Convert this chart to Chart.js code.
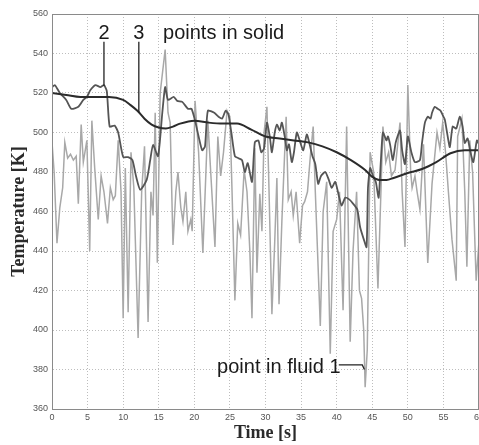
<!DOCTYPE html>
<html>
<head>
<meta charset="utf-8">
<script src="https://cdn.jsdelivr.net/npm/chart.js@4"></script>
<style>
html, body { margin: 0; padding: 0; background: #fff; overflow: hidden; }
</style>
</head>
<body>
<canvas id="grafico" width="479" height="445"></canvas>
<script>
// axis ticks
const xTicks = [0, 5, 10, 15, 20, 25, 30, 35, 40, 45, 50, 55, 60];
const yTicks = [360, 380, 400, 420, 440, 460, 480, 500, 520, 540, 560];

// point 3 in solid (smooth) [time s, temperature K]
const solid3 = [
    [0, 520], [2, 519], [4, 518], [6, 518], [8, 518], [10, 516.5], [11, 514], [12, 511],
    [13, 507], [14, 504], [15, 502.5], [16, 502], [17, 503], [18, 504.5], [20, 506], [22, 505],
    [24, 504.5], [26, 504.5], [28, 501.5], [30, 498], [32, 497], [34, 496], [36, 495], [38, 493],
    [40, 490], [42, 486], [44, 481], [45, 477.5], [46, 476], [47, 476], [48, 477], [50, 479.5],
    [52, 481.5], [54, 485], [56, 489.5], [58, 491], [60, 491]
];

// point 2 in solid
const solid2 = [
    [0, 523], [0.4, 524], [1.1, 520], [2.0, 516.5], [2.7, 512], [3.7, 513], [4.4, 516.5], [4.9, 518],
    [5.4, 521.5], [6.1, 524], [6.8, 523], [7.3, 524], [7.7, 521], [8.1, 503], [8.8, 503.5], [9.3, 500],
    [10.0, 487.6], [10.7, 487.5], [11.3, 486], [11.8, 478], [12.4, 471], [13.3, 476], [13.8, 486], [14.2, 493.7],
    [14.9, 488], [15.5, 510], [15.9, 523], [16.3, 516.5], [17.1, 518], [17.6, 516], [18.3, 515.5], [19.1, 512],
    [19.6, 512], [20.1, 506], [20.6, 498], [21.1, 491], [21.5, 493], [21.9, 511], [22.8, 510], [23.4, 508],
    [23.9, 507], [24.4, 511], [24.8, 509], [25.2, 500], [25.7, 488], [26.2, 487], [26.7, 486], [27.1, 480],
    [27.5, 484.5], [28.1, 475], [28.5, 495], [29.0, 496], [29.4, 490], [29.8, 492], [30.2, 505], [30.6, 498],
    [30.9, 490], [31.3, 500], [31.6, 504], [32.0, 501], [32.3, 505], [32.7, 498], [33.0, 491], [33.3, 494],
    [33.7, 485], [34.0, 490], [34.4, 500], [34.8, 496], [35.3, 491], [35.8, 499], [36.2, 494], [36.6, 488],
    [37.0, 484], [37.4, 474], [37.8, 478], [38.4, 480], [38.9, 476], [39.3, 472], [39.8, 475], [40.3, 468],
    [40.7, 463], [41.2, 467], [41.8, 466], [42.3, 464], [42.9, 461], [43.3, 452], [43.8, 446], [44.2, 442],
    [44.4, 472], [44.7, 482], [45.1, 478], [45.5, 475], [45.9, 467], [46.2, 485], [46.5, 500], [47.0, 496],
    [47.2, 498], [47.5, 494], [47.9, 486], [48.3, 495], [48.9, 501], [49.2, 491], [49.6, 484], [50.0, 498],
    [50.5, 490], [51.0, 485], [51.7, 486], [52.0, 495], [52.4, 505], [52.8, 508], [53.2, 507], [53.4, 510],
    [53.8, 513], [54.2, 512], [54.6, 511], [55.0, 508], [55.2, 506.5], [55.6, 498], [55.9, 492.6], [56.3, 503],
    [56.8, 502], [57.3, 508], [57.7, 503], [58.0, 494.7], [58.4, 497], [58.8, 490], [59.2, 485], [59.7, 496],
    [60.0, 494]
];

// point in fluid 1
const fluid1 = [
    [0.0, 495], [0.3, 480], [0.7, 444], [1.1, 462], [1.5, 472], [1.8, 495], [2.2, 487], [2.6, 489],
    [3.0, 486], [3.4, 488], [3.7, 464], [4.1, 504], [4.4, 485], [4.9, 496], [5.3, 440], [5.6, 506],
    [6.0, 482], [6.5, 456], [6.9, 478], [7.3, 470], [7.8, 454], [8.2, 472], [8.6, 466], [8.9, 468],
    [9.3, 496], [9.7, 470], [10.0, 406], [10.3, 482], [10.7, 409], [11.1, 490], [11.5, 472], [12.1, 396],
    [12.6, 470], [13.0, 493], [13.5, 404], [13.9, 470], [14.2, 458], [14.5, 510], [14.8, 434], [15.2, 520],
    [15.9, 542], [16.3, 510], [16.6, 505], [17.0, 443], [17.4, 470], [17.7, 480], [18.1, 462], [18.4, 455],
    [18.8, 470], [19.1, 450], [19.5, 456], [19.7, 450], [20.1, 516], [20.6, 490], [21.2, 439], [21.9, 506],
    [22.3, 480], [22.9, 442], [23.3, 498], [23.7, 478], [24.1, 490], [24.6, 511], [25.0, 508], [25.3, 470],
    [25.7, 415], [26.1, 454], [26.5, 448], [27.0, 481], [27.4, 470], [27.8, 440], [28.1, 406], [28.5, 492],
    [28.8, 429], [29.2, 469], [29.5, 450], [29.8, 500], [30.2, 513], [30.5, 470], [30.9, 408], [31.3, 445],
    [31.6, 477], [31.9, 413], [32.3, 455], [32.9, 508], [33.2, 466], [33.6, 470], [33.9, 458], [34.3, 470],
    [34.8, 444], [35.2, 463], [35.5, 465], [35.9, 470], [36.3, 488], [36.7, 503], [37.0, 470], [37.7, 402],
    [38.1, 460], [38.6, 475], [39.1, 388], [39.5, 450], [40.0, 456], [40.4, 470], [40.9, 410], [41.4, 503],
    [41.9, 394], [42.3, 440], [42.8, 470], [43.2, 420], [43.5, 416], [43.8, 400], [44.0, 371], [44.3, 390],
    [44.7, 490], [45.2, 480], [45.8, 421], [46.5, 503], [46.9, 485], [47.3, 490], [47.7, 478], [48.2, 481],
    [48.9, 505], [49.2, 470], [49.6, 442], [50.0, 524], [50.4, 480], [50.6, 472], [51.0, 478], [51.3, 470],
    [51.7, 461], [52.2, 494], [52.8, 434], [53.4, 474], [54.1, 500], [54.5, 492], [54.9, 505], [55.3, 490],
    [55.7, 470], [56.2, 446], [56.8, 425], [57.0, 498], [57.6, 507], [58.0, 470], [58.3, 432], [58.7, 496],
    [59.1, 480], [59.6, 425], [60.0, 445]
];

// textos das anotacoes, posicionados em unidades dos eixos
const anotacoes = [
    { texto: '2', x: 7.3, y: 547.3, align: 'center' },
    { texto: '3', x: 12.2, y: 547.3, align: 'center' },
    { texto: 'points in solid', x: 15.6, y: 547.3, align: 'left' },
    { texto: 'point in fluid 1', x: 23.2, y: 378.2, align: 'left' }
];
const linhasGuia = [
    [[7.3, 546], [7.3, 523.5]],
    [[12.2, 546], [12.2, 510]],
    [[40.3, 382.3], [43.6, 382.3], [43.9, 380]]
];

const paraPontos = lista => lista.map(p => ({ x: p[0], y: p[1] }));

const molduraPlugin = {
    id: 'moldura',
    afterDatasetsDraw(chart) {
        const { ctx, chartArea: a, scales } = chart;
        ctx.save();
        ctx.strokeStyle = '#8a8a8a';
        ctx.lineWidth = 1;
        ctx.strokeRect(a.left + 0.5, a.top + 0.5, a.right - a.left - 1, a.bottom - a.top);

        ctx.strokeStyle = '#222';
        ctx.lineWidth = 1.3;
        linhasGuia.forEach(l => {
            ctx.beginPath();
            l.forEach((p, i) => {
                const px = scales.x.getPixelForValue(p[0]);
                const py = scales.y.getPixelForValue(p[1]);
                if (i === 0) ctx.moveTo(px, py); else ctx.lineTo(px, py);
            });
            ctx.stroke();
        });

        ctx.fillStyle = '#1a1a1a';
        ctx.font = '20px "Liberation Sans", Arial, sans-serif';
        ctx.textBaseline = 'alphabetic';
        anotacoes.forEach(t => {
            ctx.textAlign = t.align;
            ctx.fillText(t.texto, scales.x.getPixelForValue(t.x), scales.y.getPixelForValue(t.y));
        });
        ctx.restore();
    }
};

const ctx = document.getElementById('grafico').getContext('2d');

new Chart(ctx, {
    type: 'line',
    data: {
        datasets: [
            {
                label: 'point 3',
                data: paraPontos(solid3),
                borderColor: '#2b2b2b',
                borderWidth: 2,
                pointRadius: 0,
                tension: 0.4,
                cubicInterpolationMode: 'monotone'
            },
            {
                label: 'point 2',
                data: paraPontos(solid2),
                borderColor: '#555555',
                borderWidth: 1.8,
                pointRadius: 0,
                tension: 0.2
            },
            {
                label: 'point in fluid 1',
                data: paraPontos(fluid1),
                borderColor: '#a8a8a8',
                borderWidth: 1.5,
                pointRadius: 0,
                tension: 0
            }
        ]
    },
    options: {
        responsive: false,
        animation: false,
        layout: { padding: { top: 14, right: 0, left: 0, bottom: 0 } },
        plugins: {
            legend: { display: false },
            tooltip: { enabled: false }
        },
        scales: {
            x: {
                type: 'linear',
                min: 0,
                max: 60,
                afterBuildTicks: s => { s.ticks = xTicks.map(v => ({ value: v })); },
                ticks: { font: { size: 9, family: 'Arial, "Liberation Sans", sans-serif' }, color: '#555', padding: 3, maxRotation: 0 },
                grid: { color: '#bdbdbd', drawTicks: false },
                border: { color: '#8a8a8a', dash: [1, 2] },
                title: {
                    display: true,
                    text: 'Time [s]',
                    color: '#2a2a2a',
                    font: { family: '"Liberation Serif", "Times New Roman", serif', weight: 'bold', size: 18 },
                    padding: { top: 0, bottom: 1 }
                },
                afterFit: s => { s.paddingRight = 0; s.paddingLeft = 0; s.height = 36; }
            },
            y: {
                min: 360,
                max: 560,
                afterBuildTicks: s => { s.ticks = yTicks.map(v => ({ value: v })); },
                ticks: { font: { size: 9, family: 'Arial, "Liberation Sans", sans-serif' }, color: '#555', padding: 4 },
                grid: { color: '#bdbdbd', drawTicks: false },
                border: { color: '#8a8a8a', dash: [1, 2] },
                title: {
                    display: true,
                    text: 'Temperature [K]',
                    color: '#2a2a2a',
                    font: { family: '"Liberation Serif", "Times New Roman", serif', weight: 'bold', size: 18 },
                    padding: { top: 9, bottom: 0 }
                },
                afterFit: s => { s.width = 52; s.paddingTop = 0; s.paddingBottom = 0; }
            }
        }
    },
    plugins: [molduraPlugin]
});
</script>
</body>
</html>
